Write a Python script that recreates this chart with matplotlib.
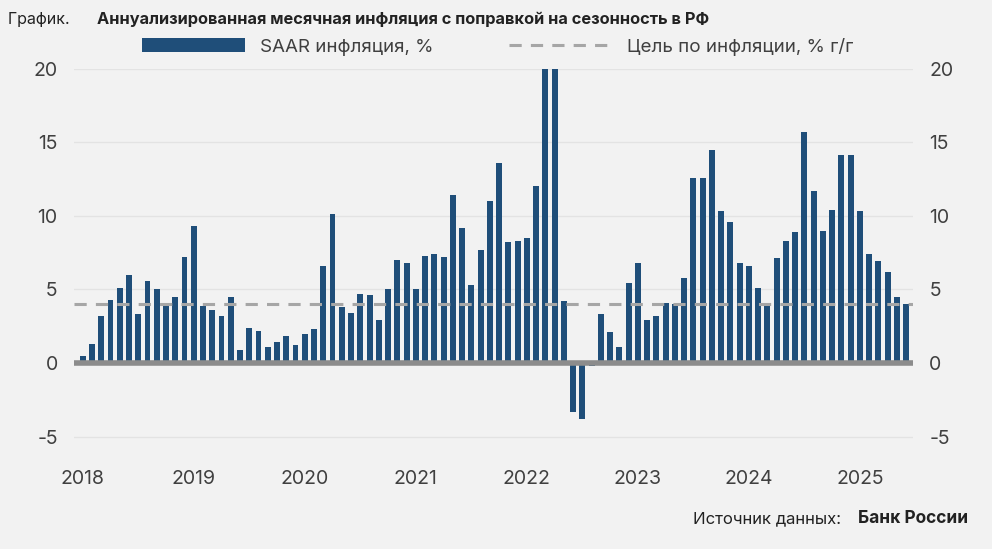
import matplotlib.pyplot as plt
import numpy as np

plt.rcParams["font.family"] = "Inter"
plt.rcParams["axes.unicode_minus"] = False

# Месячные значения SAAR, янв 2018 — июн 2025 (мар/апр 2022 выходят за шкалу)
saar = [
    0.5, 1.3, 3.2, 4.3, 5.1, 6.0, 3.3, 5.6, 5.0, 4.1, 4.5, 7.2,
    9.3, 3.9, 3.6, 3.2, 4.5, 0.9, 2.4, 2.2, 1.1, 1.4, 1.8, 1.2,
    2.0, 2.3, 6.6, 10.1, 3.8, 3.4, 4.7, 4.6, 2.9, 5.0, 7.0, 6.8,
    5.0, 7.3, 7.4, 7.2, 11.4, 9.2, 5.3, 7.7, 11.0, 13.6, 8.2, 8.3,
    8.5, 12.0, 26.0, 24.0, 4.2, -3.3, -3.8, -0.2, 3.3, 2.1, 1.1, 5.4,
    6.8, 2.9, 3.2, 4.1, 4.0, 5.8, 12.6, 12.6, 14.5, 10.3, 9.6, 6.8,
    6.6, 5.1, 4.0, 7.1, 8.3, 8.9, 15.7, 11.7, 9.0, 10.4, 14.1, 14.1,
    10.3, 7.4, 6.9, 6.2, 4.5, 4.0,
]
target = 4.0
years = list(range(2018, 2026))
yticks = [-5, 0, 5, 10, 15, 20]

BAR = "#1f4e79"
BG = "#f2f2f2"

fig = plt.figure(figsize=(9.92, 5.49), dpi=100, facecolor=BG)
ax = fig.add_axes([0.075, 0.17, 0.845, 0.705])
ax.set_facecolor(BG)

x = np.arange(len(saar))
bars = ax.bar(x, saar, width=0.64, color=BAR, zorder=3)
line = ax.axhline(target, color="#a6a6a6", lw=2.2, ls=(0, (4, 3)), zorder=4)
ax.axhline(0, color="#8c8c8c", lw=4, zorder=5)

ax.set_ylim(-6.3, 20)
ax.set_xlim(-0.9, len(saar) - 0.3)
ax.set_yticks(yticks)
ax.set_xticks([(y - 2018) * 12 for y in years])
ax.set_xticklabels([str(y) for y in years])
ax.grid(axis="y", color="#e3e3e3", lw=1, zorder=0)
for s in ax.spines.values():
    s.set_visible(False)
ax.tick_params(length=0, labelsize=14, colors="#404040", pad=10)
ax.tick_params(axis="y", labelright=True, pad=12)

ax.legend([bars, line], ["SAAR инфляция, %", "Цель по инфляции, % г/г"],
          loc="lower center", bbox_to_anchor=(0.505, 0.99), ncol=2, frameon=False,
          fontsize=13.5, handlelength=5.5, columnspacing=4, labelcolor="#404040")

fig.text(0.008, 0.965, "График. ", fontsize=11.5, color="#222222", va="center")
fig.text(0.098, 0.965, "Аннуализированная месячная инфляция с поправкой на сезонность в РФ",
         fontsize=11.8, fontweight="bold", color="#222222", va="center")
fig.text(0.848, 0.055, "Источник данных:", fontsize=12, color="#222222",
         ha="right", va="center")
fig.text(0.976, 0.055, "Банк России", fontsize=12.5, fontweight="bold",
         color="#222222", ha="right", va="center")

fig.savefig("out.png", dpi=100, facecolor=BG)
